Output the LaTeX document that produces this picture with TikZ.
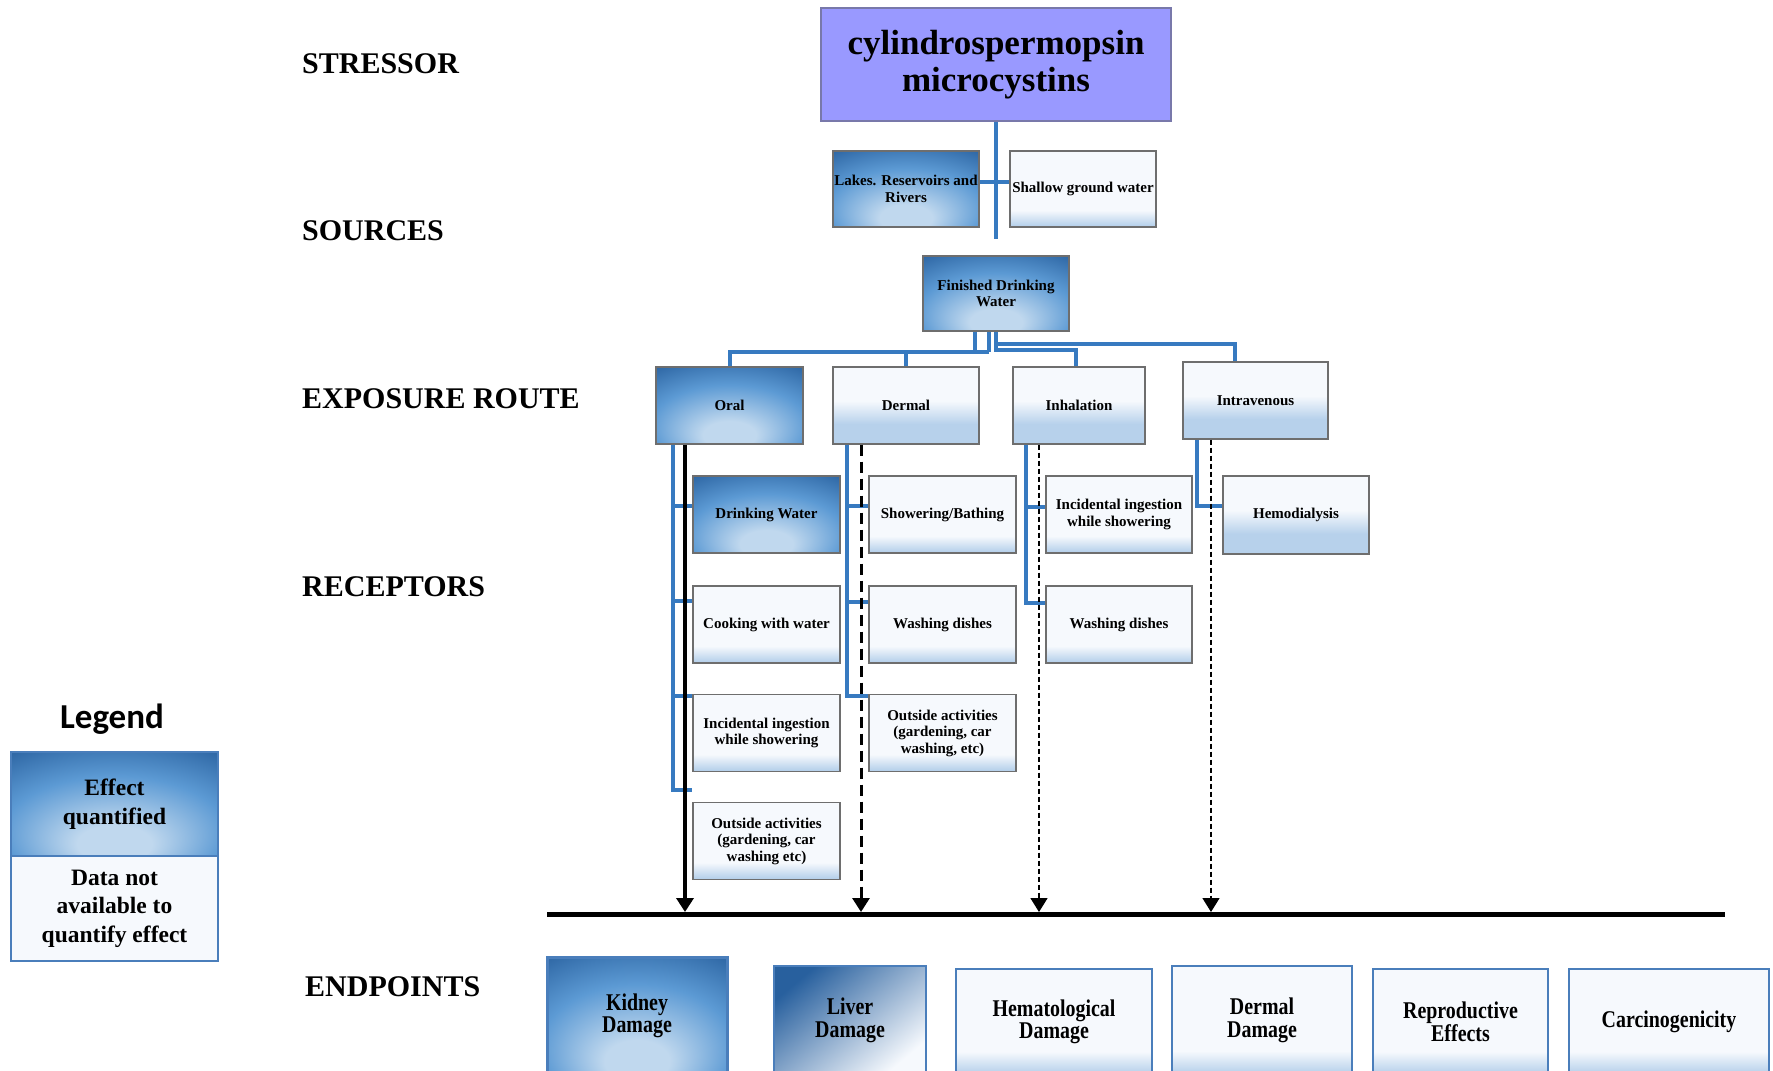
\documentclass[tikz,border=0pt]{standalone}
\usepackage{fontspec}
\setmainfont{Liberation Serif}
\newfontfamily\condf[FakeStretch=0.83]{Liberation Serif}
\newfontfamily\legendf{Carlito}
\usetikzlibrary{arrows.meta,calc}

\definecolor{qdark}{RGB}{40,96,158}
\definecolor{qmid}{RGB}{92,154,212}
\definecolor{qlight}{RGB}{192,216,238}
\definecolor{lblue}{RGB}{183,209,235}
\definecolor{lwhite}{RGB}{246,249,253}
\definecolor{bline}{RGB}{55,122,192}
\definecolor{boxgray}{RGB}{110,110,110}
\definecolor{bluebrd}{RGB}{74,126,187}
\definecolor{stressfill}{RGB}{153,153,255}
\definecolor{stressbrd}{RGB}{120,120,170}

\pgfdeclareradialshading{qshade}{\pgfpoint{0bp}{-22bp}}{color(0bp)=(qlight); color(9bp)=(qlight); color(27bp)=(qmid); color(44bp)=(qdark); color(70bp)=(qdark)}
\pgfdeclareverticalshading{lshadeA}{100bp}{color(0bp)=(lblue); color(38bp)=(lblue); color(53bp)=(lwhite); color(100bp)=(lwhite)}
\pgfdeclareverticalshading{lshadeB}{100bp}{color(0bp)=(lblue); color(26bp)=(lblue); color(36bp)=(lwhite); color(100bp)=(lwhite)}

\begin{document}
\begin{tikzpicture}[x=1pt,y=-1pt,
  every node/.style={inner sep=1pt, align=center},
  boxtxt/.style={font=\fontsize{15}{16.5}\selectfont\bfseries},
  qbox/.style={boxtxt, draw=boxgray, line width=1.2pt, shade, shading=qshade},
  lboxA/.style={boxtxt, draw=boxgray, line width=1.2pt, shade, shading=lshadeA},
  lboxB/.style={boxtxt, draw=boxgray, line width=1.2pt, shade, shading=lshadeB},
  rec/.style={minimum width=147pt, minimum height=77pt},
  tree/.style={draw=bline, line width=4pt},
  lab/.style={anchor=west, inner sep=0pt, font=\fontsize{30}{32}\selectfont\bfseries},
  eptxt/.style={font=\condf\fontsize{24}{22.5}\selectfont\bfseries},
  eplight/.style={eptxt, draw=bluebrd, line width=1.2pt, shade, shading=lshadeB},
  solidarr/.style={draw=black, line width=3.5pt, -{Triangle[width=17pt,length=14pt]}, shorten >=2pt},
  thickdash/.style={draw=black, line width=3pt, dash pattern=on 11pt off 6pt, -{Triangle[width=17pt,length=14pt]}, shorten >=2pt},
  thindash/.style={draw=black, line width=1.5pt, dash pattern=on 5pt off 3pt, -{Triangle[width=17pt,length=14pt]}, shorten >=2pt}
]
\useasboundingbox (0,0) rectangle (1773,1071);
\clip (0,0) rectangle (1773,1071);
\fill[white] (0,0) rectangle (1773,1071);

% level labels
\node[lab] (lstress) at (302,64) {STRESSOR};
\node[lab] (lsrc) at (302,231) {SOURCES};
\node[lab] (lexp) at (302,399) {EXPOSURE ROUTE};
\node[lab] (lrec) at (302,587) {RECEPTORS};
\node[lab] (lend) at (305,987) {ENDPOINTS};

% stressor
\node[draw=stressbrd, line width=1.2pt, fill=stressfill, minimum width=350pt, minimum height=113pt,
      font=\fontsize{35}{37}\selectfont\bfseries] (stressor) at (996,64.5) {cylindrospermopsin\\microcystins};

% sources
\node[qbox, minimum width=146pt, minimum height=76pt] (lakes) at (906,189) {Lakes. Reservoirs and\\Rivers};
\node[lboxB, minimum width=146pt, minimum height=76pt] (shallow) at (1083,189) {Shallow ground water};
\node[qbox, minimum width=146pt, minimum height=75pt] (fdw) at (996,293.5) {Finished Drinking\\Water};

% exposure routes
\node[qbox, minimum width=147pt, minimum height=77pt] (oral) at (729.5,405.5) {Oral};
\node[lboxA, minimum width=146pt, minimum height=77pt] (dermal) at (906,405.5) {Dermal};
\node[lboxA, minimum width=132pt, minimum height=77pt] (inhal) at (1079,405.5) {Inhalation};
\node[lboxA, minimum width=145pt, minimum height=77pt] (intra) at (1255.5,400.5) {Intravenous};

% receptors - oral
\node[qbox, rec] (dw) at (766.5,514.5) {Drinking Water};
\node[lboxB, rec] (cook) at (766.5,624.5) {Cooking with water};
\node[lboxB, rec] (incid) at (766.5,733) {Incidental ingestion\\while showering};
\node[lboxB, rec] (outo) at (766.5,841) {Outside activities\\(gardening, car\\washing etc)};
% receptors - dermal
\node[lboxB, rec] (show) at (942.5,514.5) {Showering/Bathing};
\node[lboxB, rec] (washd) at (942.5,624.5) {Washing dishes};
\node[lboxB, rec] (outd) at (942.5,733) {Outside activities\\(gardening, car\\washing, etc)};
% receptors - inhalation
\node[lboxB, rec, minimum width=146pt] (incidi) at (1119,514.5) {Incidental ingestion\\while showering};
\node[lboxB, rec, minimum width=146pt] (washi) at (1119,624.5) {Washing dishes};
% receptors - intravenous
\node[lboxA, rec, minimum width=146pt, minimum height=78pt] (hemo) at (1296,515) {Hemodialysis};

% connectors: stressor / sources
\coordinate (srcend) at (996,239);
\draw[tree] (stressor.south) -- (srcend);
\draw[tree] ([yshift=7.5pt]lakes.east) -- ([yshift=7.5pt]shallow.west);

% connectors: finished water to routes
\coordinate (jL) at (989,352);
\coordinate (jR) at (996,350);
\coordinate (jI) at (996,344);
\draw[tree] ([xshift=-21pt]fdw.south) -- ([xshift=-21pt]fdw.south |- jL);
\draw[tree] ([xshift=-7pt]fdw.south) -- (jL);
\draw[tree] (jL) -| (oral.north);
\draw[tree] (jL -| dermal.north) -- (dermal.north);
\draw[tree] (fdw.south) -- (jR) -| ([xshift=-3pt]inhal.north);
\draw[tree] (jI) -| ([xshift=-20.5pt]intra.north);

% trees to receptors
\draw[tree] ([xshift=-56.5pt]oral.south) |- ([yshift=8.5pt]dw.west);
\draw[tree] ([xshift=-56.5pt]oral.south) |- ([yshift=23.5pt]cook.west);
\draw[tree] ([xshift=-56.5pt]oral.south) |- ([yshift=37pt]incid.west);
\draw[tree] ([xshift=-56.5pt]oral.south) |- ([yshift=51pt]outo.west);

\draw[tree] ([xshift=-59pt]dermal.south) |- ([yshift=8.5pt]show.west);
\draw[tree] ([xshift=-59pt]dermal.south) |- ([yshift=22.5pt]washd.west);
\draw[tree] ([xshift=-59pt]dermal.south) |- ([yshift=37pt]outd.west);

\draw[tree] ([xshift=-53pt]inhal.south) |- ([yshift=7.5pt]incidi.west);
\draw[tree] ([xshift=-53pt]inhal.south) |- ([yshift=21.5pt]washi.west);

\draw[tree] ([xshift=-58.5pt]intra.south) |- ([yshift=9pt]hemo.west);

% baseline and arrows
\coordinate (hlL) at (547,914);
\coordinate (hlR) at (1725,914);
\draw[line width=5pt] (hlL) -- (hlR);
\draw[solidarr] ([xshift=-44.5pt]oral.south) -- ([xshift=-44.5pt]oral.south |- hlL);
\draw[thickdash] ([xshift=-45pt]dermal.south) -- ([xshift=-45pt]dermal.south |- hlL);
\draw[thindash] ([xshift=-40pt]inhal.south) -- ([xshift=-40pt]inhal.south |- hlL);
\draw[thindash] ([xshift=-44.5pt]intra.south) -- ([xshift=-44.5pt]intra.south |- hlL);

% endpoints
\node[eptxt, draw=bluebrd, line width=3pt, shade, shading=qshade, minimum width=180pt, minimum height=118pt] (kidney) at (637,1016) {Kidney\\Damage};
\node[eptxt, draw=bluebrd, line width=1.2pt, shade, top color=qdark, middle color=qmid, bottom color=lwhite, shading angle=40, minimum width=152pt, minimum height=109pt] (liver) at (850,1020.5) {Liver\\Damage};
\node[eplight, minimum width=196pt, minimum height=106pt] (hemat) at (1054,1022) {Hematological\\Damage};
\node[eplight, minimum width=180pt, minimum height=109pt] (dermd) at (1262,1020.5) {Dermal\\Damage};
\node[eplight, minimum width=175pt, minimum height=106pt] (repro) at (1460.5,1022) {Reproductive\\Effects};
\node[eplight, minimum width=200pt, minimum height=106pt] (carc) at (1669,1022) {Carcinogenicity};

% legend
\node[font=\legendf\fontsize{35}{40}\selectfont\bfseries] (legtitle) at (112,719) {Legend};
\node[draw=bluebrd, line width=1.5pt, shade, shading=qshade, minimum width=207pt, minimum height=104pt,
      font=\fontsize{23.5}{28.5}\selectfont\bfseries] (leg1) at (114.5,804) {Effect\\quantified};
\node[draw=bluebrd, line width=1.5pt, fill=lwhite, minimum width=207pt, minimum height=105pt,
      font=\fontsize{23.5}{28.5}\selectfont\bfseries] (leg2) at (114.5,908.5) {Data not\\available to\\quantify effect};
\end{tikzpicture}
\end{document}
